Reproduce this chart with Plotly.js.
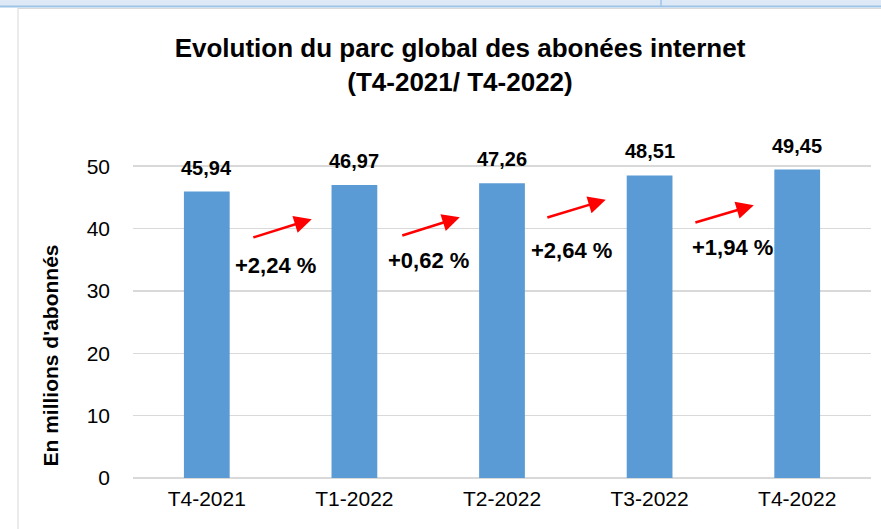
<!DOCTYPE html>
<html>
<head>
<meta charset="utf-8">
<script src="https://cdn.plot.ly/plotly-3.0.1.min.js"></script>
<style>html,body{margin:0;padding:0;background:#fff;}#chart{width:881px;height:529px;}</style>
</head>
<body>
<div id="chart"></div>
<script>
// ---- data ----
const quarters = ["T4-2021", "T1-2022", "T2-2022", "T3-2022", "T4-2022"];
const subscribers = [45.94, 46.97, 47.26, 48.51, 49.45];
const growthLabels = ["+2,24 %", "+0,62 %", "+2,64 %", "+1,94 %"];
const yTicks = [0, 10, 20, 30, 40, 50];

// ---- layout constants ----
const W = 881, H = 529;
const M = {l: 133, r: 10, t: 135, b: 51};
const pw = W - M.l - M.r, ph = H - M.t - M.b;
const px2x = p => (p - M.l) / pw;
const px2y = p => (H - M.b - p) / ph;
const FONT = '"Liberation Sans", Arial, sans-serif';
const fmt = v => v.toFixed(2).replace('.', ',');

const trace = {
  type: 'bar',
  x: quarters,
  y: subscribers,
  marker: {color: '#5b9bd5'},
  hoverinfo: 'none'
};

// value labels above bars
const annotations = quarters.map((q, i) => ({
  x: q, y: subscribers[i], xref: 'x', yref: 'y',
  text: '<b>' + fmt(subscribers[i]) + '</b>',
  showarrow: false, yanchor: 'bottom', yshift: 11,
  font: {family: FONT, size: 20, color: '#000'}
}));

// growth arrows + labels between bars (offsets in category units / axis units)
const arrowGeom = [
  {tx: 0.305, ty: 38.5, hx: 0.711, hy: 41.5, lx: 0.467, ly: 34.0},
  {tx: 1.314, ty: 38.8, hx: 1.714, hy: 41.8, lx: 1.504, ly: 34.9},
  {tx: 2.297, ty: 41.7, hx: 2.703, hy: 44.6, lx: 2.473, ly: 36.5},
  {tx: 3.300, ty: 40.9, hx: 3.706, hy: 43.75, lx: 3.564, ly: 36.9}
];
growthLabels.forEach((g, i) => {
  const a = arrowGeom[i];
  annotations.push({
    x: a.hx, y: a.hy, ax: a.tx, ay: a.ty, xref: 'x', yref: 'y', axref: 'x', ayref: 'y',
    showarrow: true, arrowhead: 2, arrowsize: 1.4, arrowwidth: 2.5, arrowcolor: '#ff0000', text: ''
  });
  annotations.push({
    x: a.lx, y: a.ly, xref: 'x', yref: 'y', text: '<b>' + g + '</b>', showarrow: false,
    font: {family: FONT, size: 22, color: '#000'}
  });
});

// y axis title (placed lower than plot-centre, as in the reference)
annotations.push({
  x: px2x(36), y: px2y(356), xref: 'paper', yref: 'paper', textangle: -90,
  text: "<b>En millions d'abonnés</b>", showarrow: false,
  font: {family: FONT, size: 21, color: '#000'}
});

const shapes = [
  {type: 'rect', xref: 'paper', yref: 'paper', x0: px2x(0), x1: px2x(W), y0: px2y(6), y1: px2y(-2),
   fillcolor: '#dde9f6', line: {width: 0}, layer: 'above'},
  {type: 'line', xref: 'paper', yref: 'paper', x0: px2x(0), x1: px2x(W), y0: px2y(6.5), y1: px2y(6.5),
   line: {color: '#9dc3e6', width: 2}},
  {type: 'line', xref: 'paper', yref: 'paper', x0: px2x(18), x1: px2x(W), y0: px2y(8.5), y1: px2y(8.5),
   line: {color: '#d9d9d9', width: 1}},
  {type: 'line', xref: 'paper', yref: 'paper', x0: px2x(661), x1: px2x(661), y0: px2y(0), y1: px2y(6),
   line: {color: '#9dc3e6', width: 1.5}},
  {type: 'line', xref: 'paper', yref: 'paper', x0: px2x(18), x1: px2x(18), y0: px2y(8), y1: px2y(H + 2),
   line: {color: '#d9d9d9', width: 1}}
];

const layout = {
  width: W, height: H,
  margin: M,
  paper_bgcolor: '#ffffff', plot_bgcolor: '#ffffff',
  showlegend: false,
  bargap: 0.69,
  title: {
    text: '<b>Evolution du parc global des abonées internet<br>(T4-2021/ T4-2022)</b>',
    font: {family: FONT, size: 26, color: '#000'},
    xref: 'container', yref: 'container', x: 460 / W, xanchor: 'center',
    y: 1 - 57 / H, yanchor: 'top'
  },
  xaxis: {
    type: 'category', range: [-0.5, 4.5],
    showgrid: false, zeroline: false, showline: false, ticks: '',
    tickfont: {family: FONT, size: 21, color: '#000'},
    ticklabelstandoff: 6
  },
  yaxis: {
    range: [0, 55], tickvals: yTicks, ticktext: yTicks.map(String),
    showgrid: true, gridcolor: '#d9d9d9', gridwidth: 1.5,
    zeroline: true, zerolinecolor: '#d9d9d9', zerolinewidth: 1.5,
    showline: false, ticks: '',
    tickfont: {family: FONT, size: 21, color: '#000'},
    ticklabelstandoff: 22
  },
  shapes: shapes,
  annotations: annotations
};

Plotly.newPlot('chart', [trace], layout, {displayModeBar: false, staticPlot: true});
</script>
</body>
</html>
